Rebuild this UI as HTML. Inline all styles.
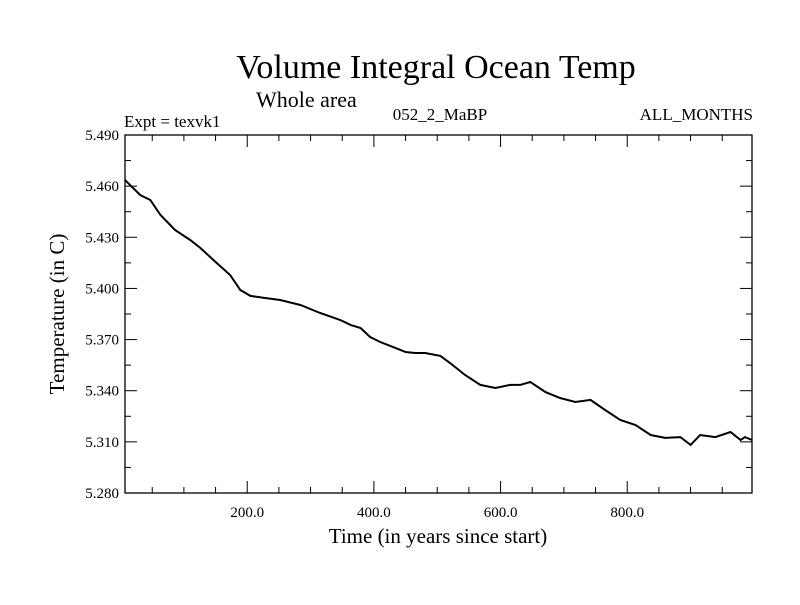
<!DOCTYPE html>
<html><head><meta charset="utf-8"><style>
body{margin:0;background:#fff}
svg text{font-family:"Liberation Serif",serif;fill:#000}
</style></head><body>
<svg id="c" width="800" height="600">
<text x="436" y="78" font-size="34" text-anchor="middle">Volume Integral Ocean Temp</text>
<text x="256" y="107" font-size="22">Whole area</text>
<text x="124" y="127" font-size="17">Expt = texvk1</text>
<text x="440" y="120" font-size="17" text-anchor="middle">052_2_MaBP</text>
<text x="753" y="120" font-size="17" text-anchor="end">ALL_MONTHS</text>
<text x="438" y="543" font-size="21" text-anchor="middle">Time (in years since start)</text>
<text transform="translate(64,314) rotate(-90)" font-size="21" text-anchor="middle">Temperature (in C)</text>
<g id="axes"></g>
<path id="line" fill="none" stroke="#000" stroke-width="2"/>
<rect x="125" y="135" width="627" height="358" fill="none" stroke="#000" stroke-width="1.3"/>
</svg>
<script>
const years=[7,31,47,63,86,110,126,150,173,189,205,228,252,284,315,347,363,379,394,410,434,450,465,481,505,520,544,568,592,615,631,647,671,694,718,742,765,789,813,837,860,884,900,915,939,963,979,986,997];
const temps=[5.4636,5.4548,5.4519,5.4431,5.4343,5.4284,5.4237,5.4155,5.4079,5.3991,5.3956,5.3944,5.3932,5.3903,5.3856,5.3815,5.3786,5.3768,5.3715,5.3686,5.3651,5.3627,5.3621,5.3621,5.3604,5.3563,5.3492,5.3434,5.3416,5.3434,5.3434,5.3451,5.3392,5.3357,5.3334,5.3346,5.3287,5.3228,5.3199,5.3140,5.3123,5.3128,5.3082,5.3140,5.3128,5.3158,5.3111,5.3128,5.3111];
const xTicks=[200,400,600,800];
const xTickLabels=["200.0","400.0","600.0","800.0"];
const yTicks=[5.28,5.31,5.34,5.37,5.40,5.43,5.46,5.49];
const yTickLabels=["5.280","5.310","5.340","5.370","5.400","5.430","5.460","5.490"];
const X0=125,X1=752,Y0=493,Y1=135,XMIN=7,XMAX=997,YMIN=5.28,YMAX=5.49;
const sx=v=>X0+(v-XMIN)/(XMAX-XMIN)*(X1-X0);
const sy=v=>Y0-(v-YMIN)/(YMAX-YMIN)*(Y0-Y1);
const NS="http://www.w3.org/2000/svg";
const ax=document.getElementById('axes');
function ln(x1,y1,x2,y2,name){const l=document.createElementNS(NS,'line');l.setAttribute('x1',x1);l.setAttribute('y1',y1);l.setAttribute('x2',x2);l.setAttribute('y2',y2);l.setAttribute('stroke','#000');l.setAttribute('stroke-width','1');


ax.appendChild(l);}
function tx(x,y,s,anchor,name){const t=document.createElementNS(NS,'text');t.setAttribute('x',x);t.setAttribute('y',y);t.setAttribute('font-size','15');t.setAttribute('text-anchor',anchor);t.textContent=s;


ax.appendChild(t);}
for(let v=50;v<XMAX;v+=50){const x=sx(v);const maj=v%200===0;const L=maj?12:6;ln(x,Y0,x,Y0-L,'x-tick');ln(x,Y1,x,Y1+L,'x-tick-top');}
xTicks.forEach((v,i)=>tx(sx(v),Y0+24,xTickLabels[i],'middle','x-tick-label'));
for(let k=0;k<=14;k++){const v=YMIN+k*0.015;const y=sy(v);const L=k%2===0?12:6;ln(X0,y,X0+L,y,'y-tick');ln(X1,y,X1-L,y,'y-tick-right');}
yTicks.forEach((v,i)=>tx(X0-6,sy(v)+5,yTickLabels[i],'end','y-tick-label'));
document.getElementById('line').setAttribute('d',years.map((y,i)=>(i?'L':'M')+sx(y).toFixed(1)+','+sy(temps[i]).toFixed(1)).join(''));
</script>
</body></html>
